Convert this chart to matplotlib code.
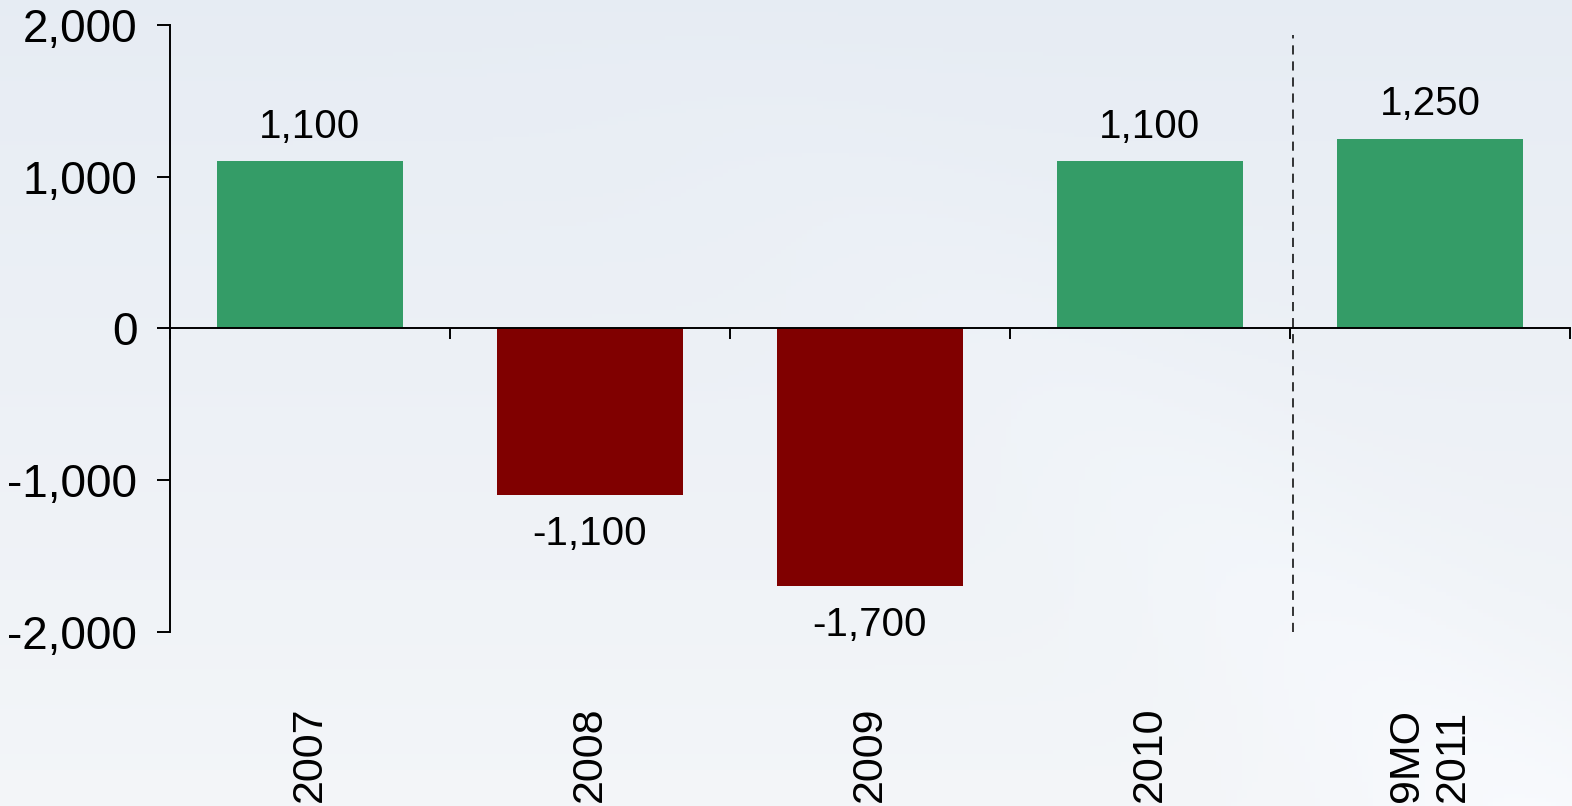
import numpy as np
import matplotlib
matplotlib.use("Agg")
import matplotlib.pyplot as plt
from matplotlib.transforms import blended_transform_factory

categories = ["2007", "2008", "2009", "2010", "9MO\n2011"]
values = [1100, -1100, -1700, 1100, 1250]
value_labels = ["1,100", "-1,100", "-1,700", "1,100", "1,250"]
yticks = [-2000, -1000, 0, 1000, 2000]
ytick_labels = ["-2,000", "-1,000", "0", "1,000", "2,000"]

GREEN = "#349C67"
RED = "#800000"

plt.rcParams['font.family'] = ['Liberation Sans', 'DejaVu Sans']

W, H = 1572, 806
fig = plt.figure(figsize=(W / 100, H / 100), dpi=100)

# background gradient
bg = fig.add_axes([0, 0, 1, 1], zorder=-10)
yy = np.linspace(0, 1, 200)[:, None]
xx = np.linspace(0, 1, 300)[None, :]
top = np.array([0.905, 0.927, 0.955])
bot = np.array([0.955, 0.963, 0.975])
t = yy * np.ones_like(xx)
img = top[None, None, :] * (1 - t[..., None]) + bot[None, None, :] * t[..., None]
d = (xx - 0.3) - (yy * 0.55)
band = np.exp(-((d - 0.12) / 0.12) ** 2) * 0.018 * yy
img = np.clip(img + band[..., None], 0, 1)
bg.imshow(img, aspect='auto', extent=[0, 1, 0, 1], origin='upper')
bg.set_axis_off()

left = 170 / W
right = 1570 / W
top_y = 1 - 24.7 / H
bot_y = 1 - 632 / H
ax = fig.add_axes([left, bot_y, right - left, top_y - bot_y])
ax.patch.set_alpha(0)

x = np.arange(len(categories))
colors = [GREEN if v >= 0 else RED for v in values]
ax.bar(x, values, width=0.667, color=colors, zorder=2)

ax.set_xlim(-0.5, len(categories) - 0.5)
ax.set_ylim(-2000, 2000)

ax.spines['top'].set_visible(False)
ax.spines['right'].set_visible(False)
ax.spines['bottom'].set_position(('data', 0))
ax.spines['bottom'].set_linewidth(1.4)
ax.spines['left'].set_linewidth(1.4)
ax.spines['bottom'].set_zorder(3)

ax.set_yticks(yticks)
ax.set_yticklabels(ytick_labels, fontsize=33)
ax.tick_params(axis='y', direction='out', length=9.5, width=1.4, pad=14)
ax.set_xticks(np.arange(-0.5, len(categories), 1.0))
ax.set_xticklabels([])
ax.tick_params(axis='x', direction='out', length=8, width=1.4)

for xi, v, lab in zip(x, values, value_labels):
    if v >= 0:
        ax.annotate(lab, (xi, v), xytext=(0, 17), textcoords='offset points',
                    ha='center', va='baseline', fontsize=29)
    else:
        ax.annotate(lab, (xi, v), xytext=(0, -14), textcoords='offset points',
                    ha='center', va='top', fontsize=29)

# dashed separator
ax.plot([3.51, 3.51], [-2000, 1930], color='black', lw=1.1, dashes=(6, 4.5), zorder=3)

# category labels (rotated, anchored at bottom)
trans = blended_transform_factory(ax.transData, fig.transFigure)
for xi, c in zip(x, categories):
    ax.text(xi, 1 - 802 / H, c, rotation=90, ha='center', va='bottom',
            multialignment='left', fontsize=31, transform=trans, clip_on=False,
            linespacing=1.2)

fig.savefig("out.png", dpi=100)
